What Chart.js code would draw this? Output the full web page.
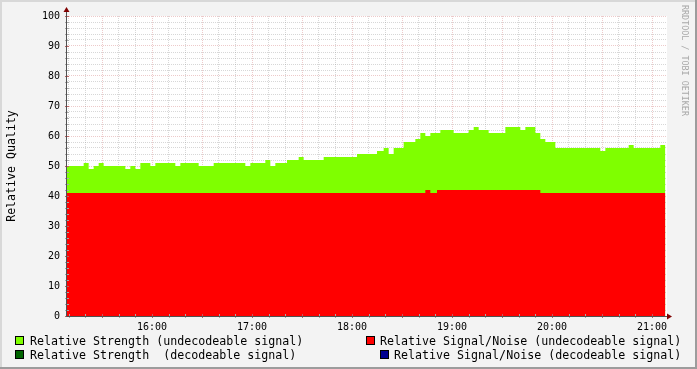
<!DOCTYPE html>
<html>
<head>
<meta charset="utf-8">
<script src="https://cdn.jsdelivr.net/npm/chart.js@4/dist/chart.umd.min.js"></script>
<style>
  html, body { margin: 0; padding: 0; background: #f3f3f3; }
  #wrap { width: 697px; height: 369px; position: relative; }
</style>
</head>
<body>
<div id="wrap"><canvas id="c" width="697" height="369"></canvas></div>
<script>
// values (step starts, HH:MM)
const strengthTimes = ["15:09","15:19","15:22","15:25","15:28","15:31","15:44","15:47","15:50","15:53","15:59","16:02","16:14","16:17","16:28","16:37","16:56","16:59","17:08","17:11","17:14","17:21","17:28","17:31","17:43","18:03","18:15","18:19","18:22","18:25","18:31","18:38","18:41","18:44","18:47","18:53","19:01","19:10","19:13","19:16","19:22","19:32","19:41","19:44","19:50","19:53","19:56","20:02","20:29","20:32","20:46","20:49","21:05","21:08"];
const strengthValues = [50,51,49,50,51,50,49,50,49,51,50,51,50,51,50,51,50,51,52,50,51,52,53,52,53,54,55,56,54,56,58,59,61,60,61,62,61,62,63,62,61,63,62,63,61,59,58,56,55,56,57,56,57,57];

const snrTimes = ["15:09","18:44","18:47","18:51","19:53","21:08"];
const snrValues = [41,42,41,42,41,41];

const hourLabels = ["16:00","17:00","18:00","19:00","20:00","21:00"];
const yLabels = [0,10,20,30,40,50,60,70,80,90,100];

const legendItems = [
  { text: "Relative Strength (undecodeable signal)", color: "#7fff00" },
  { text: "Relative Signal/Noise (undecodeable signal)", color: "#ff0000" },
  { text: "Relative Strength  (decodeable signal)", color: "#006400" },
  { text: "Relative Signal/Noise (decodeable signal)", color: "#000090" }
];

function toMin(t) {
  const p = t.split(":");
  return parseInt(p[0]) * 60 + parseInt(p[1]);
}
function pts(times, vals) {
  return times.map((t, i) => ({ x: toMin(t), y: vals[i] }));
}

const MONO = "'DejaVu Sans Mono', monospace";
const minorGrid = "rgba(150,150,150,0.38)";
const majorGrid = "rgba(200,90,90,0.32)";

const rrdDecor = {
  id: 'rrdDecor',
  beforeDraw(chart) {
    const ctx = chart.ctx;
    ctx.save();
    ctx.fillStyle = "#f3f3f3";
    ctx.fillRect(0, 0, chart.width, chart.height);
    const a = chart.chartArea;
    ctx.fillStyle = "#ffffff";
    ctx.fillRect(a.left, a.top, a.right - a.left, a.bottom - a.top);
    ctx.restore();
  },
  afterDraw(chart) {
    const ctx = chart.ctx;
    const a = chart.chartArea;
    const xs = chart.scales.x, ys = chart.scales.y;
    ctx.save();

    // small tick marks on the axes
    ctx.lineWidth = 1;
    for (let v = 0; v <= 100; v += 2) {
      const y = Math.round(ys.getPixelForValue(v)) + 0.5;
      ctx.strokeStyle = v % 10 === 0 ? "#c06060" : "#a8a8a8";
      ctx.beginPath();
      ctx.moveTo(a.left - 2, y); ctx.lineTo(a.left + 2, y); ctx.stroke();
    }
    for (let m = 910; m <= 1260; m += 10) {
      const x = Math.round(xs.getPixelForValue(m)) + 0.5;
      ctx.strokeStyle = m % 30 === 0 ? "#c06060" : "#a8a8a8";
      ctx.beginPath();
      ctx.moveTo(x, a.bottom - 2); ctx.lineTo(x, a.bottom + 2); ctx.stroke();
    }

    // axis lines
    ctx.strokeStyle = "#505050";
    ctx.beginPath();
    ctx.moveTo(a.left - 0.5, a.bottom + 0.5); ctx.lineTo(a.left - 0.5, a.top - 6);
    ctx.moveTo(a.left - 0.5, a.bottom + 0.5); ctx.lineTo(a.right + 3, a.bottom + 0.5);
    ctx.stroke();

    // arrows
    ctx.fillStyle = "#800000";
    ctx.beginPath();
    ctx.moveTo(a.left - 0.5, a.top - 9);
    ctx.lineTo(a.left - 3.5, a.top - 4);
    ctx.lineTo(a.left + 2.5, a.top - 4);
    ctx.closePath(); ctx.fill();
    ctx.beginPath();
    ctx.moveTo(a.right + 5, a.bottom + 0.5);
    ctx.lineTo(a.right, a.bottom - 2.5);
    ctx.lineTo(a.right, a.bottom + 3.5);
    ctx.closePath(); ctx.fill();

    // y axis title
    ctx.fillStyle = "#000000";
    ctx.font = "11.6px " + MONO;
    ctx.textAlign = "center";
    ctx.textBaseline = "middle";
    ctx.save();
    ctx.translate(12, (a.top + a.bottom) / 2);
    ctx.rotate(-Math.PI / 2);
    ctx.fillText("Relative Quality", 0, 0);
    ctx.restore();

    // watermark on the right
    ctx.save();
    ctx.fillStyle = "#a8a8a8";
    ctx.font = "8.4px " + MONO;
    ctx.textAlign = "left";
    ctx.translate(684, 5);
    ctx.rotate(Math.PI / 2);
    ctx.fillText("RRDTOOL / TOBI OETIKER", 0, 0);
    ctx.restore();

    // legend
    const pos = [
      { sx: 15, tx: 30, y: 341 },
      { sx: 366, tx: 380, y: 341 },
      { sx: 15, tx: 30, y: 355 },
      { sx: 380, tx: 394, y: 355 }
    ];
    ctx.font = "11.65px " + MONO;
    ctx.textAlign = "left";
    ctx.textBaseline = "middle";
    legendItems.forEach((it, i) => {
      const p = pos[i];
      ctx.fillStyle = it.color;
      ctx.fillRect(p.sx, p.y - 5, 9, 9);
      ctx.strokeStyle = "#000000";
      ctx.strokeRect(p.sx + 0.5, p.y - 4.5, 8, 8);
      ctx.fillStyle = "#000000";
      ctx.fillText(it.text, p.tx, p.y + 0.5);
    });

    // frame shade
    ctx.fillStyle = "#d8d8d8";
    ctx.fillRect(0, 0, chart.width, 2);
    ctx.fillRect(0, 0, 2, chart.height);
    ctx.fillStyle = "#9c9c9c";
    ctx.fillRect(chart.width - 2, 0, 2, chart.height);
    ctx.fillRect(0, chart.height - 2, chart.width, 2);
    ctx.restore();
  }
};

new Chart(document.getElementById('c'), {
  type: 'line',
  data: {
    datasets: [
      {
        label: 'Relative Signal/Noise (undecodeable signal)',
        data: pts(snrTimes, snrValues),
        backgroundColor: '#ff0000',
        borderWidth: 0,
        fill: 'origin',
        stepped: true,
        pointRadius: 0
      },
      {
        label: 'Relative Strength (undecodeable signal)',
        data: pts(strengthTimes, strengthValues),
        backgroundColor: '#7fff00',
        borderWidth: 0,
        fill: 'origin',
        stepped: true,
        pointRadius: 0
      }
    ]
  },
  options: {
    responsive: false,
    animation: false,
    devicePixelRatio: 1,
    layout: { padding: { top: 16, right: 30, left: 0, bottom: 0 } },
    plugins: { legend: { display: false }, tooltip: { enabled: false } },
    scales: {
      x: {
        type: 'linear',
        min: toMin("15:09"),
        max: toMin("21:09"),
        z: 1,
        afterFit(s) { s.height = 53; },
        afterBuildTicks(s) {
          const t = [];
          for (let m = 910; m <= 1260; m += 10) t.push({ value: m });
          s.ticks = t;
        },
        grid: {
          drawTicks: false,
          color: (c) => (c.tick && c.tick.value % 30 === 0) ? majorGrid : minorGrid
        },
        border: { display: false, dash: [1, 1] },
        ticks: {
          autoSkip: false,
          maxRotation: 0,
          padding: 5,
          color: '#000000',
          font: { family: MONO, size: 10 },
          callback: (v) => {
            const lbl = String(Math.floor(v / 60)).padStart(2, '0') + ':00';
            return (v % 60 === 0 && hourLabels.includes(lbl)) ? lbl : '';
          }
        }
      },
      y: {
        min: 0,
        max: 100,
        z: 1,
        afterFit(s) { s.width = 67; },
        afterBuildTicks(s) {
          const t = [];
          for (let v = 0; v <= 100; v += 2) t.push({ value: v });
          s.ticks = t;
        },
        grid: {
          drawTicks: false,
          color: (c) => (c.tick && c.tick.value % 10 === 0) ? majorGrid : minorGrid
        },
        border: { display: false, dash: [1, 1] },
        ticks: {
          autoSkip: false,
          padding: 7,
          color: '#000000',
          font: { family: MONO, size: 10 },
          callback: (v) => yLabels.includes(v) ? String(v) : ''
        }
      }
    }
  },
  plugins: [rrdDecor]
});
</script>
</body>
</html>
